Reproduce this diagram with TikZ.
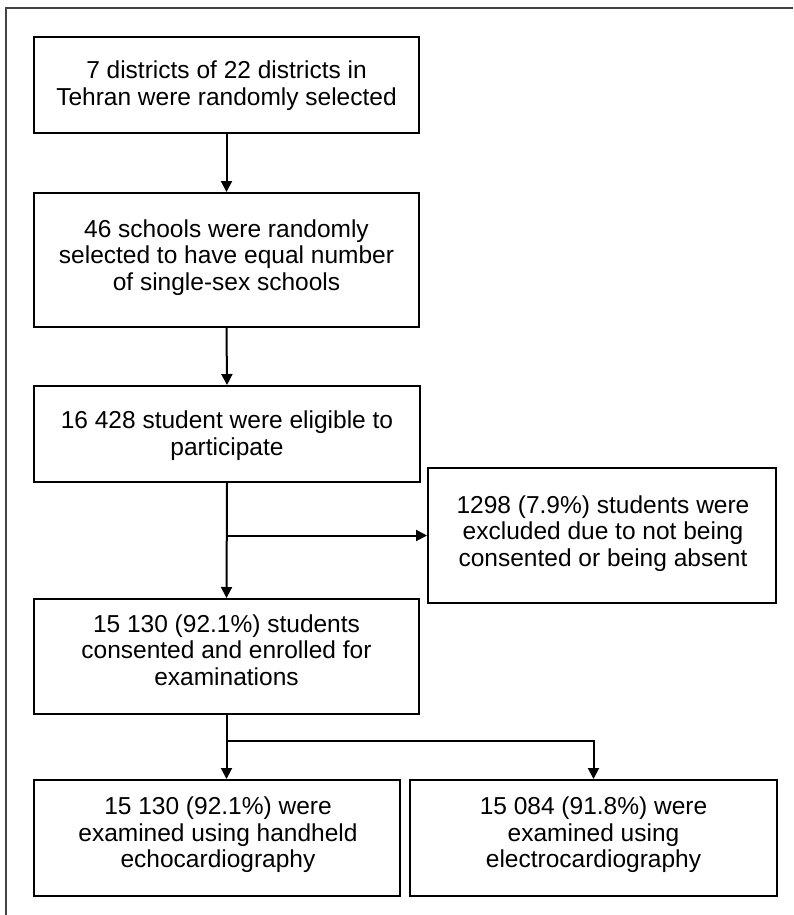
\documentclass[tikz,border=0pt]{standalone}
\usepackage{fontspec}
\setmainfont{Liberation Sans}
\usetikzlibrary{arrows.meta}
\definecolor{framecol}{HTML}{444444}
\tikzset{
  box/.style={draw=black, line width=2pt, inner sep=0pt, fill=white},
  txt/.style={align=center, inner sep=0pt, font=\fontsize{24.5pt}{26.7pt}\selectfont},
  arr/.style={draw=black, line width=2pt, -{Triangle[length=11pt,width=11pt]}},
  lin/.style={draw=black, line width=2pt}
}
\begin{document}
\begin{tikzpicture}[x=1pt,y=-1pt]
\useasboundingbox (0,0) rectangle (793,915);
\fill[white] (0,0) rectangle (793,915);
% outer frame (top and left)
\draw[framecol, line width=1.5pt] (6,915) -- (6,8) -- (793,8);

% boxes
\node[box, minimum width=385pt, minimum height=96pt]  (b1) at (226.5,85) {};
\node[box, minimum width=385pt, minimum height=134pt] (b2) at (226.5,260) {};
\node[box, minimum width=386pt, minimum height=96pt]  (b3) at (227,434) {};
\node[box, minimum width=348pt, minimum height=135pt] (ex) at (602,535.5) {};
\node[box, minimum width=385pt, minimum height=115pt] (b4) at (226.5,656.5) {};
\node[box, minimum width=366pt, minimum height=116pt] (b5) at (217,838) {};
\node[box, minimum width=367pt, minimum height=116pt] (b6) at (593.5,838) {};

% texts
\node[txt] (t1) at (226.5,86) {7 districts of 22 districts in\\Tehran were randomly selected};
\node[txt] (t2) at (226.5,257.5) {46 schools were randomly\\selected to have equal number\\of single-sex schools};
\node[txt] (t3) at (227,435.8) {16 428 student were eligible to\\participate};
\node[txt] (tx) at (603,533.5) {1298 (7.9\%) students were\\excluded due to not being\\consented or being absent};
\node[txt] (t4) at (226.5,650) {15 130 (92.1\%) students\\consented and enrolled for\\examinations};
\node[txt] (t5) at (218,834.8) {15 130 (92.1\%) were\\examined using handheld\\echocardiography};
\node[txt] (t6) at (593.5,834.8) {15 084 (91.8\%) were\\examined using\\electrocardiography};

% connectors
\draw[arr] (b1.south) -- (b2.north);
\draw[arr] (b2.south) -- (b3.north);
\draw[arr] (b3.south) -- (b4.north);
\coordinate (j1) at (b3.south |- ex.west);
\draw[arr] (j1) -- (ex.west);
\draw[arr] (b4.south) -- (b4.south |- b5.north);
\coordinate (j2) at ([yshift=-26pt]b4.south);
\draw[arr] (j2) -| (b6.north);
\end{tikzpicture}
\end{document}
